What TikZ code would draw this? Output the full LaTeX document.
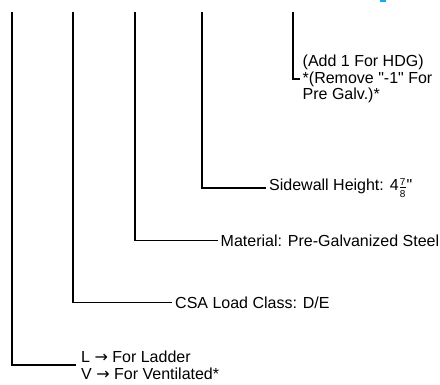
\documentclass[tikz,border=0pt]{standalone}
\usepackage{fontspec}
\usepackage{amsmath}
\setmainfont{Liberation Sans}[Ligatures=TeXOff]
\newfontfamily\arrowfont{DejaVu Sans}
\definecolor{markblue}{RGB}{20,170,250}
\newcommand{\rarr}{{\arrowfont →}}
\begin{document}
\begin{tikzpicture}[x=1pt,y=-1pt,
  leader/.style={line width=1.3pt,line join=miter},
  lbl/.style={anchor=west,inner ysep=0pt,inner xsep=3pt,font=\fontsize{16}{16.6}\selectfont,align=left}]
\useasboundingbox (0,0) rectangle (440,385);
\fill[markblue] (380,0) rectangle (386,2.5);
% top ends
\coordinate (t1) at (12,12);
\coordinate (t2) at (73,12);
\coordinate (t3) at (135,12);
\coordinate (t4) at (202,12);
\coordinate (t5) at (293,12);
% labels
\node[lbl] (l5) at (299.5,79) {(Add 1 For HDG)\\*(Remove "-1" For\\Pre Galv.)*};
\node[lbl] (l4) at (266,188) {Sidewall Height: 4\raisebox{-1.5pt}{$\frac{\text{\fontsize{10}{10}\selectfont 7}}{\text{\fontsize{10}{10}\selectfont 8}}$}"};
\node[lbl] (l3) at (217.5,240.5) {Material: Pre-Galvanized Steel};
\node[lbl] (l2) at (172,302.5) {CSA Load Class: D/E};
\node[lbl,inner xsep=5pt] (l1) at (76,365) {L \rarr{} For Ladder\\V \rarr{} For Ventilated*};
% leaders
\draw[leader] (t5) |- (l5.west);
\draw[leader] (t4) |- (l4.west);
\draw[leader] (t3) |- (l3.west);
\draw[leader] (t2) |- (l2.west);
\draw[leader] (t1) |- (l1.west);
\end{tikzpicture}
\end{document}
